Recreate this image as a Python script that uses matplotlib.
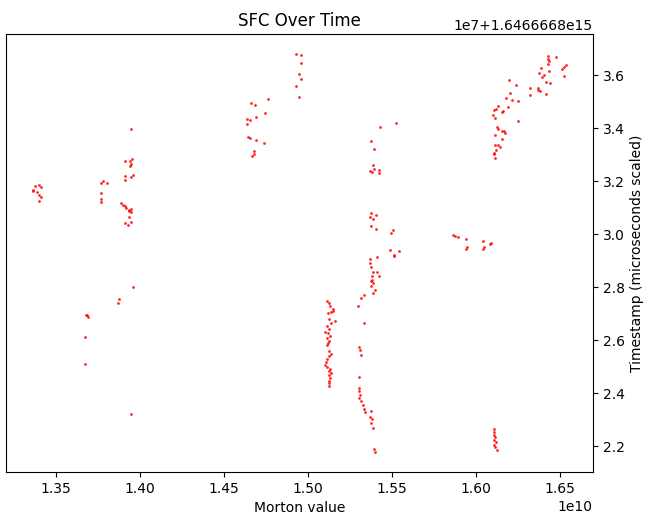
import numpy as np
import matplotlib
matplotlib.use("Agg")
import matplotlib.pyplot as plt

# Morton value (in units of 1e10) and timestamp (in units of 1e7 above 1.6466668e15)
morton_e10 = [
    # cluster near 1.337
    1.3373, 1.3365, 1.3400, 1.3409, 1.3388, 1.3397, 1.3409, 1.3400, 1.3361,
    # cluster near 1.378
    1.3770, 1.3779, 1.3802, 1.3767, 1.3767, 1.3767,
    # cluster near 1.393
    1.3910, 1.3941, 1.3953, 1.3946, 1.3941, 1.3910, 1.3910, 1.3946, 1.3961,
    1.3889, 1.3898, 1.3910, 1.3917, 1.3934, 1.3946, 1.3946, 1.3934, 1.3937,
    1.3910, 1.3929, 1.3946, 1.3944,
    # sparse lower points
    1.3957, 1.3874, 1.3866, 1.3683, 1.3691, 1.3679, 1.3675, 1.3675, 1.3946,
    # cluster near 1.47 / 1.495
    1.4931, 1.4959, 1.4959, 1.4947, 1.4959, 1.4931, 1.4947, 1.4764, 1.4661,
    1.4685, 1.4741, 1.4693, 1.4637, 1.4657, 1.4637, 1.4641, 1.4657, 1.4693,
    1.4736, 1.4677, 1.4681, 1.4665,
    # column near 1.512
    1.5114, 1.5126, 1.5130, 1.5146, 1.5134, 1.5150, 1.5118, 1.5126, 1.5158,
    1.5134, 1.5114, 1.5122, 1.5103, 1.5118, 1.5130, 1.5114, 1.5126, 1.5118,
    1.5110, 1.5126, 1.5134, 1.5126, 1.5110, 1.5106, 1.5103, 1.5114, 1.5130,
    1.5126, 1.5134, 1.5122, 1.5130, 1.5126, 1.5122, 1.5126,
    # column near 1.535 (lower)
    1.5377, 1.5385, 1.5397, 1.5389, 1.5333, 1.5313, 1.5297, 1.5333, 1.5305,
    1.5309, 1.5313, 1.5305, 1.5305, 1.5305, 1.5309, 1.5305, 1.5317, 1.5325,
    1.5333, 1.5337, 1.5373, 1.5369, 1.5380, 1.5377, 1.5385, 1.5392, 1.5401,
    # column near 1.54 (upper)
    1.5524, 1.5428, 1.5377, 1.5392, 1.5385, 1.5392, 1.5369, 1.5380, 1.5420,
    1.5420, 1.5377, 1.5404, 1.5369, 1.5385, 1.5377, 1.5404, 1.5504, 1.5496,
    1.5488, 1.5512, 1.5512, 1.5540, 1.5413, 1.5369, 1.5369, 1.5377, 1.5385,
    1.5408, 1.5420, 1.5380, 1.5380, 1.5373,
    # cluster near 1.59-1.61
    1.5862, 1.5874, 1.5893, 1.5941, 1.5945, 1.5941, 1.6041, 1.6088, 1.6081,
    1.6045, 1.6041,
    # bottom column near 1.611
    1.6108, 1.6108, 1.6108, 1.6112, 1.6108, 1.6116, 1.6104, 1.6112, 1.6124,
    # upper right cluster
    1.6427, 1.6430, 1.6478, 1.6434, 1.6427, 1.6537, 1.6526, 1.6514, 1.6387,
    1.6375, 1.6434, 1.6406, 1.6394, 1.6522, 1.6415, 1.6438, 1.6196, 1.6239,
    1.6323, 1.6370, 1.6370, 1.6382, 1.6204, 1.6323, 1.6418, 1.6176, 1.6212,
    1.6248, 1.6132, 1.6116, 1.6108, 1.6188, 1.6160, 1.6152, 1.6100, 1.6112,
    1.6248, 1.6124, 1.6128, 1.6164, 1.6172, 1.6156, 1.6112, 1.6152, 1.6132,
    1.6140, 1.6112, 1.6116, 1.6108, 1.6104, 1.6112,
]

timestamp_e7 = [
    3.1823, 3.1649, 3.1875, 3.1800, 3.1596, 3.1498, 3.1423, 3.1272, 3.1672,
    3.1951, 3.2000, 3.1951, 3.1547, 3.1347, 3.1219,
    3.2755, 3.2755, 3.2830, 3.2653, 3.2577, 3.2200, 3.2049, 3.2177, 3.2253,
    3.1196, 3.1121, 3.1068, 3.0992, 3.0917, 3.0970, 3.0841, 3.0868, 3.0641,
    3.0442, 3.0366, 3.0464, 3.3962,
    2.8011, 2.7547, 2.7423, 2.6970, 2.6894, 2.6943, 2.6124, 2.5094, 2.3234,
    3.6804, 3.6755, 3.6453, 3.6049, 3.5875, 3.5596, 3.5196, 3.5121, 3.4943,
    3.4894, 3.4592, 3.4442, 3.4340, 3.4313, 3.4162, 3.3687, 3.3634, 3.3558,
    3.3460, 3.3158, 3.3030, 3.2955,
    2.7483, 2.7396, 2.7294, 2.7170, 2.7068, 2.7094, 2.7045, 2.6819, 2.6743,
    2.6668, 2.6540, 2.6442, 2.6313, 2.6264, 2.6162, 2.6087, 2.5989, 2.5913,
    2.5838, 2.5585, 2.5483, 2.5408, 2.5283, 2.5181, 2.5057, 2.5008, 2.4932,
    2.4856, 2.4781, 2.4679, 2.4577, 2.4479, 2.4377, 2.4275,
    2.8238, 2.8151, 2.7898, 2.7800, 2.7724, 2.7596, 2.7294, 2.6668, 2.5762,
    2.5634, 2.5460, 2.4615, 2.4200, 2.4075, 2.3951, 2.3823, 2.3698, 2.3547,
    2.3422, 2.3294, 2.3321, 2.3121, 2.3019, 2.2868, 2.2691, 2.1887, 2.1785,
    3.4215, 3.4038, 3.3509, 3.3234, 3.2604, 3.2479, 3.2377, 3.2351, 3.2426,
    3.2302, 3.0792, 3.0743, 3.0668, 3.0566, 3.0313, 3.0215, 3.0162, 3.0038,
    2.9408, 2.9234, 2.9181, 2.9358, 2.9132, 2.9057, 2.8906, 2.8755, 2.8577,
    2.8577, 2.8426, 2.8426, 2.8275, 2.8049,
    2.9989, 2.9936, 2.9887, 2.9811, 2.9509, 2.9434, 2.9762, 2.9687, 2.9634,
    2.9536, 2.9460,
    2.2641, 2.2540, 2.2441, 2.2340, 2.2238, 2.2162, 2.2038, 2.1962, 2.1860,
    3.6728, 3.6630, 3.6679, 3.6528, 3.6426, 3.6377, 3.6328, 3.6226, 3.6275,
    3.6102, 3.6151, 3.6000, 3.5925, 3.5974, 3.5747, 3.5698, 3.5823, 3.5649,
    3.5521, 3.5521, 3.5445, 3.5423, 3.5347, 3.5245, 3.5294, 3.5143, 3.5068,
    3.5019, 3.4842, 3.4743, 3.4691, 3.4792, 3.4668, 3.4615, 3.4491, 3.4389,
    3.4264, 3.4064, 3.3989, 3.3913, 3.3838, 3.3887, 3.3762, 3.3585, 3.3358,
    3.3283, 3.3385, 3.3181, 3.3083, 3.3030, 3.2879,
]

TS_BASE = 1.6466668e15

morton = np.array(morton_e10) * 1e10
timestamp = TS_BASE + np.array(timestamp_e7) * 1e7

fig = plt.figure(figsize=(6.5, 5.25), dpi=100)
ax = fig.add_axes([0.0092, 0.101, 0.903, 0.834])
ax.scatter(morton, timestamp, s=4, c="red", alpha=0.85, linewidths=0)
ax.yaxis.tick_right()
ax.yaxis.set_label_position("right")
ax.set_xlabel("Morton value")
ax.set_ylabel("Timestamp (microseconds scaled)")
ax.set_title("SFC Over Time")
fig.savefig("out.png", dpi=100)
